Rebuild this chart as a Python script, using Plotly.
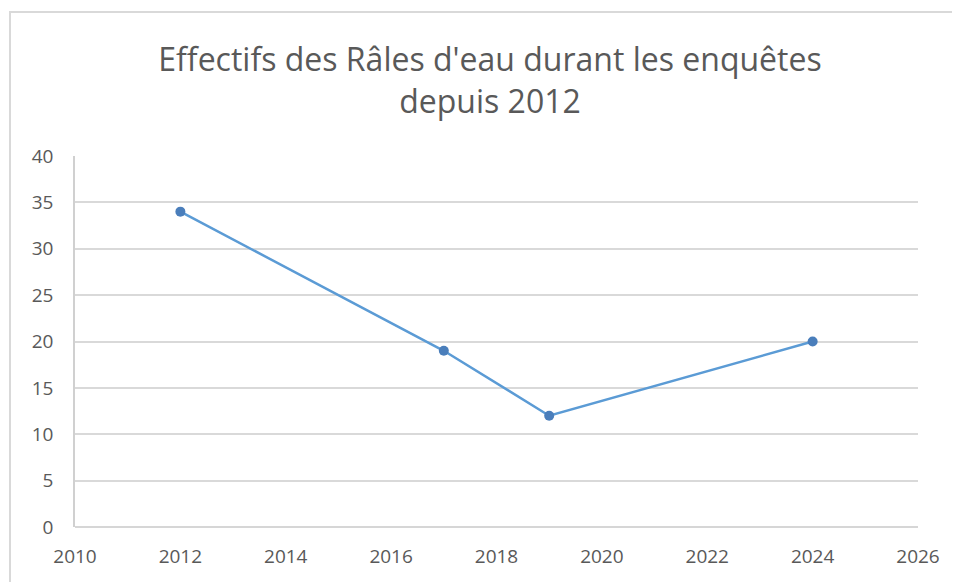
import plotly.graph_objects as go

years = [2012, 2017, 2019, 2024]
effectifs = [34, 19, 12, 20]
x_ticks = [2010, 2012, 2014, 2016, 2018, 2020, 2022, 2024, 2026]
y_ticks = [0, 5, 10, 15, 20, 25, 30, 35, 40]
title_text = "Effectifs des Râles d'eau durant les enquêtes<br>depuis 2012"

OFF = 8  # page body margin offset
W, H = 960 - OFF, 582 - OFF
L, R, T, B = 75 - OFF, 918 - OFF, 156 - OFF, 527 - OFF
pw, ph = R - L, B - T

def px(xp):
    return (xp - OFF - L) / pw

def py(yp):
    return (B - (yp - OFF)) / ph

fig = go.Figure()
fig.add_trace(go.Scatter(
    x=years, y=effectifs, mode="lines+markers",
    line=dict(color="#5b9bd5", width=2.5),
    marker=dict(color="#4a7ebb", size=10, symbol="circle"),
    showlegend=False,
))

fig.update_layout(
    width=W, height=H,
    margin=dict(l=L, r=W - R, t=T, b=H - B),
    paper_bgcolor="white", plot_bgcolor="white",
    title=dict(text=title_text, x=(490 - OFF) / W, xanchor="center",
               y=1 - (71 - OFF) / H, yanchor="top",
               font=dict(family="Open Sans", size=32, color="#595959")),
    font=dict(family="Open Sans", color="#595959"),
    xaxis=dict(range=[2010, 2026], tickvals=x_ticks, showgrid=False, zeroline=False,
               showline=False, ticks="", tickfont=dict(size=19, color="#595959"),
               ticklabelstandoff=16),
    yaxis=dict(range=[0, 40], tickvals=y_ticks, showgrid=True, gridcolor="#d9d9d9", gridwidth=1.5,
               zeroline=False, showline=True, linecolor="#d0d0d0", linewidth=1.5, ticks="",
               tickfont=dict(size=19, color="#595959"), ticklabelstandoff=16),
)

# bottom axis line
fig.add_shape(type="line", xref="paper", yref="paper", x0=0, x1=1, y0=0, y1=0,
              line=dict(color="#c8c8c8", width=1.5))
# chart border
fig.add_shape(type="rect", xref="paper", yref="paper",
              x0=px(10), x1=px(956), y0=py(12), y1=py(600),
              line=dict(color="#d9d9d9", width=2), layer="below")

fig.write_html("out.html")
